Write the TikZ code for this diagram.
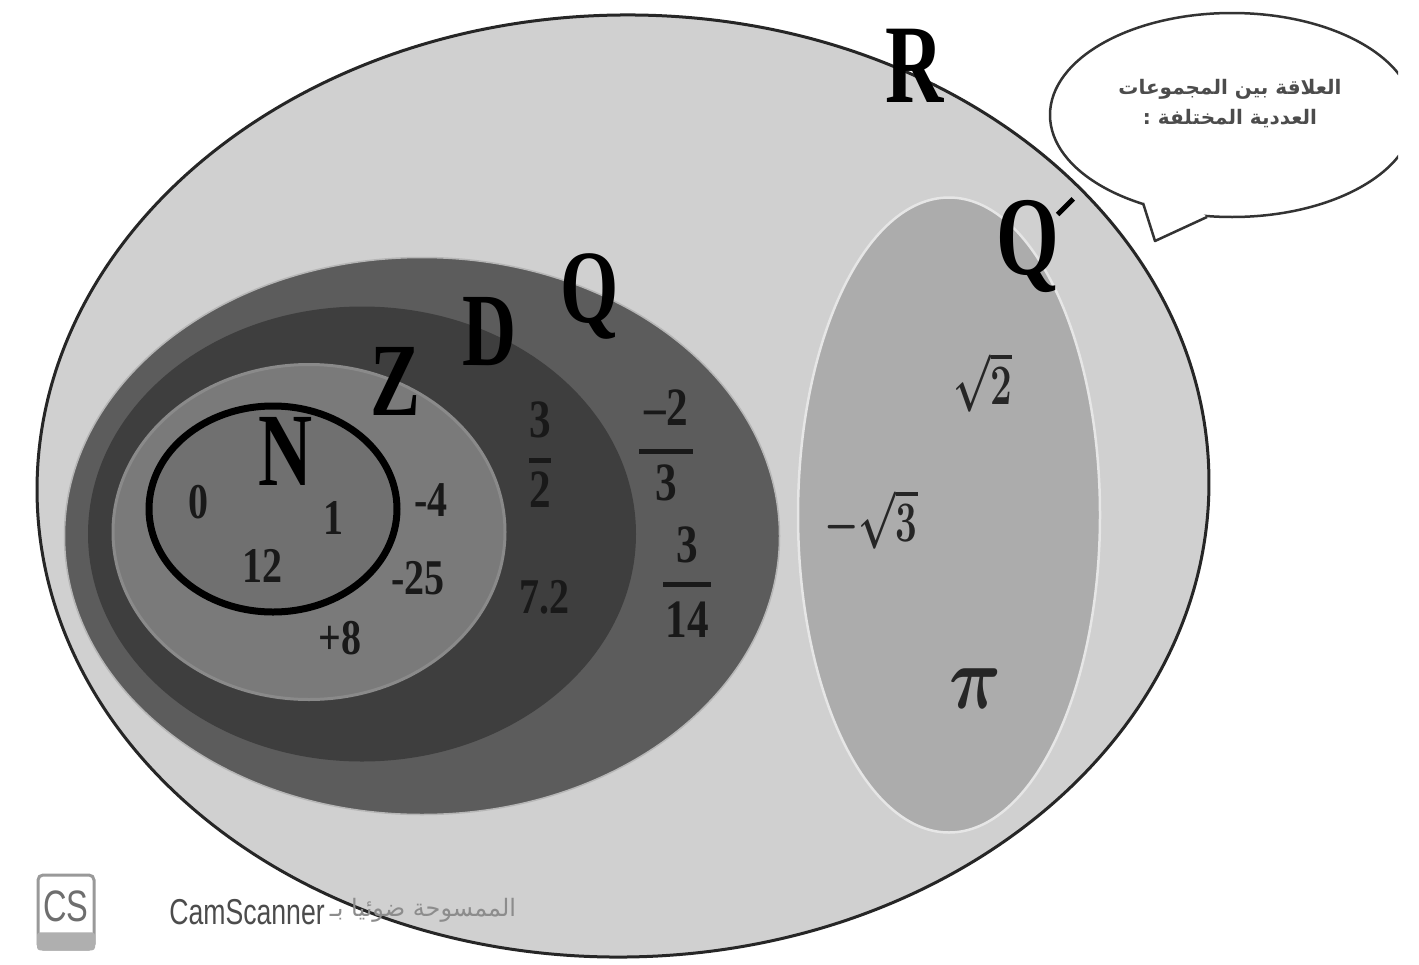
\documentclass[tikz,border=0pt]{standalone}
\usepackage{fontspec}
\setmainfont{Liberation Serif}
\newfontfamily\narrowfont[FakeStretch=0.72]{Liberation Serif}
\newfontfamily\numfont[FakeStretch=0.8]{Liberation Serif}
\newfontfamily\arabicfont[Script=Arabic]{DejaVu Sans}
\newfontfamily\scanfont[FakeStretch=0.74]{Liberation Sans}
\TeXXeTstate=1
\usetikzlibrary{shapes.geometric, positioning}
\definecolor{realgray}{RGB}{208, 208, 208}
\definecolor{ratgray}{RGB}{92, 92, 92}
\definecolor{decgray}{RGB}{62, 62, 62}
\definecolor{intgray}{RGB}{122, 122, 122}
\definecolor{natgray}{RGB}{112, 112, 112}
\definecolor{irrgray}{RGB}{172, 172, 172}
\definecolor{scangray}{RGB}{110, 110, 110}

\begin{document}
\begin{tikzpicture}[x=1pt, y=-1pt,
  setbox/.style={ellipse, inner sep=0pt},
  setname/.style={inner sep=0pt, text=black, font=\fontsize{104}{104}\selectfont\narrowfont\bfseries},
  bigname/.style={setname, font=\fontsize{112}{112}\selectfont\narrowfont\bfseries},
  numlabel/.style={inner sep=0pt, text=black!90, font=\fontsize{50}{50}\selectfont\numfont\bfseries},
  fraclabel/.style={numlabel, font=\fontsize{54}{54}\selectfont\numfont\bfseries},
  fracbar/.style={black!90, line width=5pt},
  rootlabel/.style={inner sep=0pt, text=black!85, font=\fontsize{24}{24}\selectfont\bfseries\boldmath}]

  \useasboundingbox[fill=white] (0,0) rectangle (1419,964);

  \node[setbox, draw=black!85, line width=3pt, fill=realgray, minimum width=1172pt, minimum height=942pt, rotate=1] (setR) at (623,486) {};
  \node[setbox, draw=white!55!ratgray, line width=1.5pt, fill=ratgray, minimum width=715pt, minimum height=557pt] (setQ) at (422,536) {};
  \node[setbox, fill=decgray, minimum width=548pt, minimum height=455pt] (setD) at (362,534) {};
  \node[setbox, draw=white!12!intgray, line width=3pt, fill=intgray, minimum width=392pt, minimum height=335pt] (setZ) at (309,532) {};
  \node[setbox, draw=black, line width=7pt, fill=natgray, minimum width=248pt, minimum height=206pt] (setN) at (273,509) {};
  \node[setbox, draw=white!70!irrgray, line width=2.5pt, fill=irrgray, minimum width=302pt, minimum height=635pt] (setIrr) at (949,515) {};

  \node[bigname] (nameR) at (915,66) {R};
  \node[setname] (nameQ) at (590,296) {Q};
  \node[setname] (nameD) at (490,332) {D};
  \node[setname] (nameZ) at (395,381) {Z};
  \node[setname] (nameN) at (286,451) {N};
  \node[bigname, anchor=west] (nameIrr) at (996,245) {Q\kern-3pt\raisebox{62pt}{\rotatebox{-45}{\rule{5pt}{22pt}}}};

  \node[numlabel] (zero) at (198,502) {0};
  \node[numlabel] (one) at (333,518) {1};
  \node[numlabel] (twelve) at (262,566) {12};
  \node[numlabel] (minusfour) at (431,500) {-4};
  \node[numlabel] (minustf) at (418,578) {-25};
  \node[numlabel] (pluseight) at (340,638) {+8};
  \node[numlabel] (seventwo) at (544,597) {7.2};

  \node[fraclabel] (numA) at (540,420) {3};
  \node[fraclabel] (denA) at (540,490) {2};
  \draw[fracbar] ([xshift=-11pt,yshift=11pt]denA.north) -- ([xshift=11pt,yshift=11pt]denA.north);
  \node[fraclabel] (numB) at (666,408) {–2};
  \node[fraclabel] (denB) at (666,483) {3};
  \draw[fracbar] ([xshift=-27pt,yshift=13pt]denB.north) -- ([xshift=27pt,yshift=13pt]denB.north);
  \node[fraclabel] (numC) at (687,545) {3};
  \node[fraclabel] (denC) at (687,620) {14};
  \draw[fracbar] ([xshift=-24pt,yshift=17pt]denC.north) -- ([xshift=24pt,yshift=17pt]denC.north);

  \node[rootlabel] (rootB) at (983,382) {\scalebox{1.55}[2.3]{$\sqrt{2}$}};
  \node[rootlabel] (rootC) at (871,519) {\scalebox{1.55}[2.3]{$-\sqrt{3}$}};
  \node[rootlabel] (piLabel) at (975,689) {\scalebox{2.9}[3.6]{$\pi$}};

  \begin{scope}
    \clip (1040,0) rectangle (1398,260);
    \node[setbox, draw=black!80, line width=2.5pt, fill=white, minimum width=364pt, minimum height=204pt] (bubble) at (1232,115) {};
    \coordinate (tailA) at (1143,203);
    \coordinate (tailB) at (1155,241);
    \coordinate (tailC) at (1207,217);
    \fill[white] (tailA) -- (tailB) -- (tailC) -- (1180,195) -- cycle;
    \draw[black!80, line width=2.5pt, line join=round] (tailA) -- (tailB) -- (tailC);
  \end{scope}
  \node[inner sep=0pt, text=black!70, font=\fontsize{20}{30}\selectfont\arabicfont\bfseries, align=center] (bubbleText) at (1230,104)
    {\beginR العلاقة بين المجموعات\endR\\\beginR العددية المختلفة :\endR};

  \node[draw=scangray!70, line width=3pt, fill=white, rounded corners=5pt, minimum width=56pt, minimum height=74pt, inner sep=0pt] (logo) at (66,912) {};
  \node[fill=scangray!55, rounded corners=3pt, minimum width=58pt, minimum height=18pt, inner sep=0pt, anchor=south] (logoBand) at (logo.south) {};
  \node[inner sep=0pt, text=scangray, font=\fontsize{44}{44}\selectfont\scanfont] (logoText) at (66,906) {CS};
  \node[inner sep=0pt, text=black!70, font=\fontsize{36}{36}\selectfont\scanfont] (scanName) at (247,912) {CamScanner};
  \node[inner sep=0pt, text=black!45, font=\fontsize{24}{24}\selectfont\arabicfont] (scanText) at (423,910) {\beginR الممسوحة ضوئيا بـ\endR};
\end{tikzpicture}
\end{document}
